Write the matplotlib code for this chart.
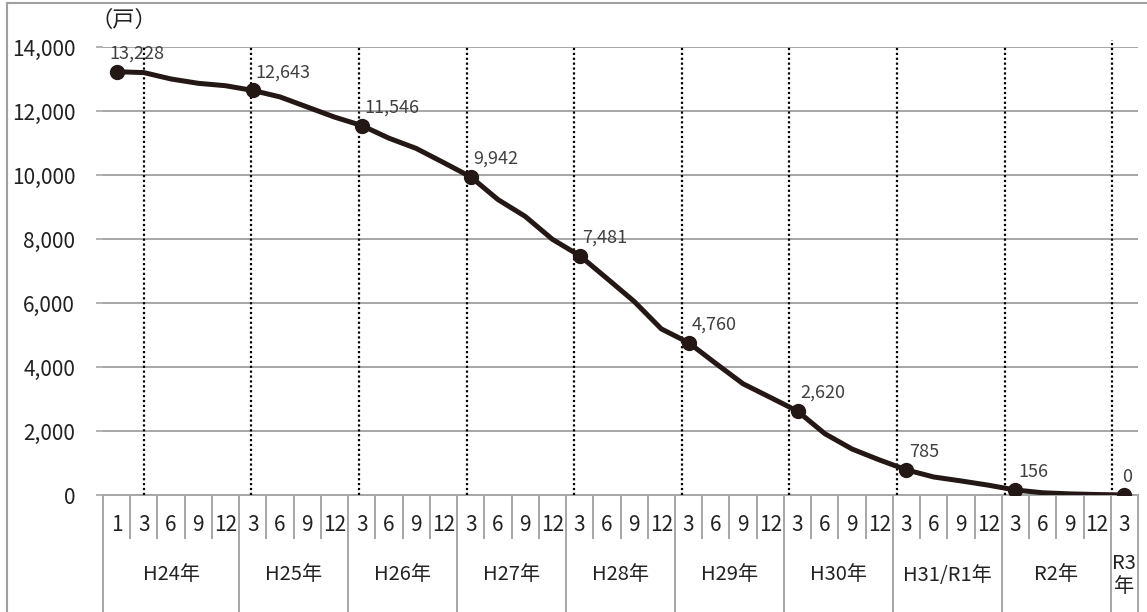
from matplotlib import pyplot as plt, rcParams
from matplotlib.lines import Line2D
from matplotlib.ticker import FuncFormatter

# 폰트 (일본어)
rcParams['font.family'] = ['Noto Sans CJK JP', 'DejaVu Sans']
rcParams['axes.unicode_minus'] = False

# 자료
years = ['H24年', 'H25年', 'H26年', 'H27年', 'H28年', 'H29年', 'H30年',
         'H31/R1年', 'R2年', 'R3\n年']
year_months = [[1, 3, 6, 9, 12]] + [[3, 6, 9, 12]] * 8 + [[3]]
values = [13228, 13200, 13000, 12865, 12790,
          12643, 12440, 12125, 11810,
          11546, 11150, 10830, 10390,
          9942, 9233, 8707, 7990,
          7481, 6770, 6050, 5190,
          4760, 4110, 3475, 3050,
          2620, 1917, 1437, 1098,
          785, 563, 440, 308,
          156, 70, 35, 15,
          0]
label_idx = [0, 5, 9, 13, 17, 21, 25, 29, 33, 37]

months = [m for ms in year_months for m in ms]
x = list(range(len(values)))
line_c = '#231815'
grid_c = '#a6a6a6'
text_c = '#222222'

fig = plt.figure(figsize=(11.47, 6.12), dpi=100)
ax = fig.add_axes([103 / 1147, 1 - 495 / 612, 1035 / 1147, 448 / 612])

ax.plot(x, values, color=line_c, lw=3.6, marker='o', ms=10,
        markevery=label_idx, zorder=5, solid_joinstyle='round')

# 데이터 레이블
for i in label_idx:
    ha = 'center' if i == x[-1] else 'left'
    dx = -5 if i == 0 else 2
    ax.annotate(f'{values[i]:,}', (x[i], values[i]), xytext=(dx, 13),
                textcoords='offset points', ha=ha, va='center',
                fontsize=13, color='#404040', zorder=6)

ax.set_xlim(-0.5, len(values) - 0.5)
ax.set_ylim(0, 14000)
ax.set_yticks(range(0, 14001, 2000))
ax.yaxis.set_major_formatter(FuncFormatter(lambda v, p: f'{int(v):,}'))
ax.tick_params(axis='y', length=5, width=1.2, color=grid_c, pad=15,
               labelsize=15, labelcolor=text_c)
ax.set_xticks([])
ax.grid(axis='y', color=grid_c, lw=1.4)
ax.set_axisbelow(True)
for s in ['left', 'right', 'top']:
    ax.spines[s].set_visible(False)
ax.spines['bottom'].set_color(grid_c)
ax.spines['bottom'].set_linewidth(1.4)

# 3월 점선
tr = ax.get_xaxis_transform()
march = [i for i, m in enumerate(months) if m == 3]
for k, i in enumerate(march):
    top = 1.015 if k == len(march) - 1 else 1.0
    ax.plot([i - 0.05 * k] * 2, [0, top], transform=tr, color='black',
            lw=1.6, ls=(0, (1, 1.2)), zorder=3, clip_on=False)

# 카테고리 표
month_bot = -43 / 448
year_bot = -118 / 448
start = -0.5
for ms, yl in zip(year_months, years):
    for j, m in enumerate(ms):
        xi = start + j + 0.5
        ax.text(xi, -30 / 448, str(m), transform=tr, ha='center', va='center',
                fontsize=15, color=text_c)
        if j > 0:
            ax.plot([start + j] * 2, [0, month_bot], transform=tr,
                    color=grid_c, lw=1.4, clip_on=False)
    ax.plot([start] * 2, [0, year_bot], transform=tr, color=grid_c, lw=1.4,
            clip_on=False)
    ax.text(start + len(ms) / 2, -80 / 448, yl, transform=tr, ha='center',
            va='center', fontsize=14.5, color=text_c, linespacing=1.1)
    start += len(ms)
ax.plot([start] * 2, [0, year_bot], transform=tr, color=grid_c, lw=1.4,
        clip_on=False)

# 단위
fig.text(90 / 1147, 1 - 20 / 612, '（戸）', ha='left', va='center',
         fontsize=16, color=text_c)

# 외곽선
fig.add_artist(Line2D([7 / 1147, 7 / 1147], [0, 1 - 3 / 612],
                      transform=fig.transFigure, color='#a0a0a0', lw=1.5))
fig.add_artist(Line2D([7 / 1147, 1], [1 - 3 / 612, 1 - 3 / 612],
                      transform=fig.transFigure, color='#a0a0a0', lw=1.5))

plt.savefig('out.png', dpi=100)
